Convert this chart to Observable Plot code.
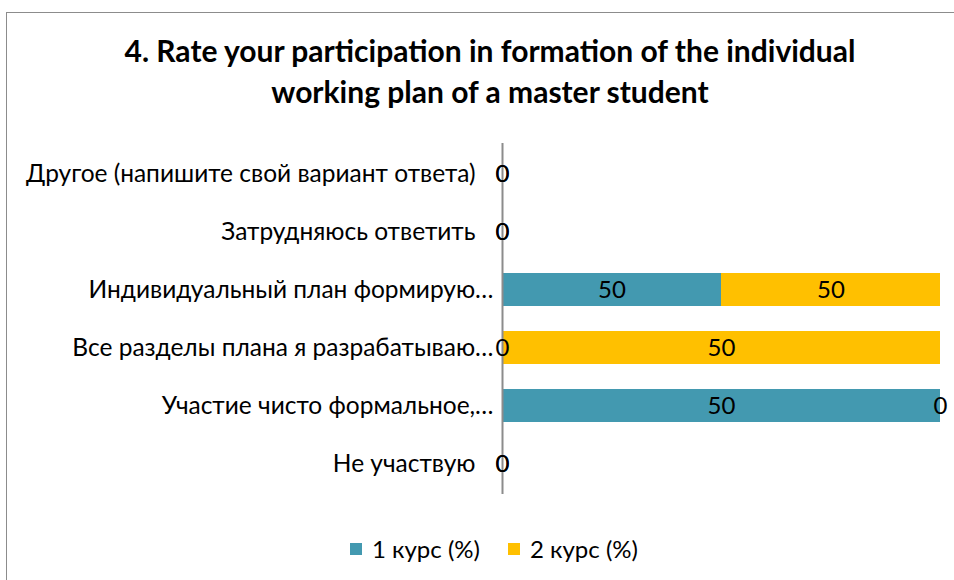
<!DOCTYPE html>
<html>
<head>
<meta charset="utf-8">
<script src="https://cdn.jsdelivr.net/npm/d3@7"></script>
<script src="https://cdn.jsdelivr.net/npm/@observablehq/plot@0.6"></script>
<style>
  html, body { margin: 0; padding: 0; background: #fff; overflow: hidden; width: 954px; height: 580px; }
  #frame { position: absolute; left: 6px; top: 12px; width: 1000px; height: 700px; border: 1.5px solid #8c8c8c; box-sizing: border-box; }
  #title { position: absolute; left: 6px; width: 968px; top: 30px; text-align: center; font-family: Lato, sans-serif; font-weight: bold; font-size: 30px; line-height: 41px; color: #000; }
  #chart { position: absolute; left: 0; top: 130px; }
  #legend { position: absolute; top: 534px; left: 0; width: 954px; font-family: Lato, sans-serif; font-size: 24px; line-height: 29px; color: #000; }
  .item { position: absolute; display: flex; align-items: center; }
  .sw { width: 12px; height: 12px; margin-right: 10px; }
</style>
</head>
<body>
<div id="frame"></div>
<div id="title">4. Rate your participation in formation of the individual<br>working plan of a master student</div>
<div id="chart"></div>
<div id="legend"></div>
<script>
const categories = [
  "Другое (напишите свой вариант ответа)",
  "Затрудняюсь ответить",
  "Индивидуальный план формирую…",
  "Все разделы плана я разрабатываю…",
  "Участие чисто формальное,…",
  "Не участвую"
];
const course1 = [0, 0, 50, 0, 50, 0];
const course2 = [0, 0, 50, 50, 0, 0];
const seriesNames = ["1 курс (%)", "2 курс (%)"];
const seriesColors = ["#4399b0", "#ffc000"];

// 100% stacked layout derived from the arrays
const rows = [];
categories.forEach((c, i) => {
  const vals = [course1[i], course2[i]];
  const total = vals[0] + vals[1];
  let acc = 0;
  vals.forEach((v, s) => {
    const share = total > 0 ? v / total * 100 : 0;
    rows.push({category: c, series: seriesNames[s], value: v, x1: acc, x2: acc + share});
    acc += share;
  });
});

const truncated = categories.filter(c => c.endsWith("…"));
const full = categories.filter(c => !c.endsWith("…"));

const plot = Plot.plot({
  width: 954,
  height: 380,
  marginLeft: 502,
  marginRight: 14,
  marginTop: 13,
  marginBottom: 16,
  style: {fontFamily: "Lato, sans-serif", fontSize: "24px", color: "#000", background: "transparent"},
  x: {domain: [0, 100], axis: null},
  y: {domain: categories, paddingInner: 0.43, paddingOuter: 0.24, label: null},
  color: {domain: seriesNames, range: seriesColors},
  marks: [
    Plot.barX(rows, {y: "category", x1: "x1", x2: "x2", fill: "series"}),
    Plot.ruleX([0], {stroke: "#8c8c8c", strokeWidth: 2}),
    Plot.axisY({ticks: full, tickSize: 0, tickPadding: 27, fontSize: 24.5, label: null}),
    Plot.axisY({ticks: truncated, tickSize: 0, tickPadding: 9, fontSize: 24.5, label: null}),
    Plot.text(rows, {y: "category", x: d => (d.x1 + d.x2) / 2, text: d => String(d.value), fontSize: 24, fill: "#000"})
  ]
});
document.getElementById("chart").appendChild(plot);

const legend = document.getElementById("legend");
const lx = [350, 508];
seriesNames.forEach((n, i) => {
  const it = document.createElement("div");
  it.className = "item";
  it.style.left = lx[i] + "px";
  it.innerHTML = `<div class="sw" style="background:${seriesColors[i]}"></div><span>${n}</span>`;
  legend.appendChild(it);
});
</script>
</body>
</html>
